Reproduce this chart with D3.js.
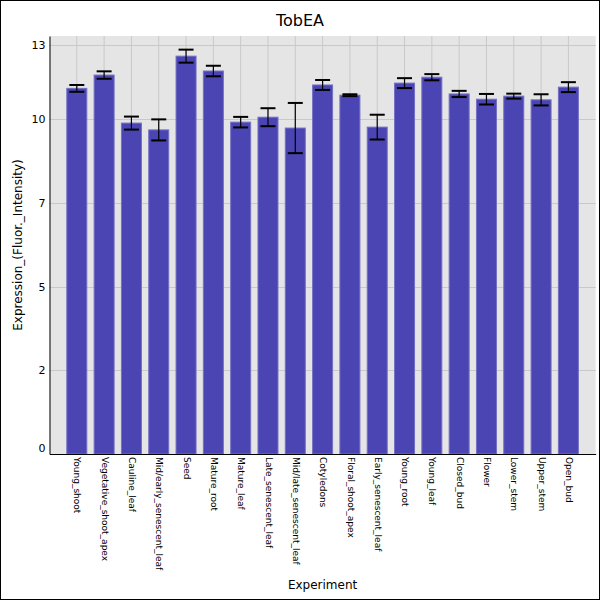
<!DOCTYPE html>
<html>
<head>
<meta charset="utf-8">
<script src="https://cdn.jsdelivr.net/npm/d3@7"></script>
<style>
  html, body { margin: 0; padding: 0; background: #fff; }
  svg { display: block; font-family: "DejaVu Sans", sans-serif; }
</style>
</head>
<body>
<svg id="chart" width="600" height="600"></svg>
<script>
const categories = ["Young_shoot", "Vegetative_shoot_apex", "Cauline_leaf", "Mid/early_senescent_leaf", "Seed", "Mature_root", "Mature_leaf", "Late_senescent_leaf", "Mid/late_senescent_leaf", "Cotyledons", "Floral_shoot_apex", "Early_senescent_leaf", "Young_root", "Young_leaf", "Closed_bud", "Flower", "Lower_stem", "Upper_stem", "Open_bud"];
const values = [11.60, 12.03, 10.48, 10.26, 12.64, 12.16, 10.51, 10.67, 10.32, 11.71, 11.38, 10.35, 11.77, 11.96, 11.42, 11.25, 11.35, 11.23, 11.64];
const errors = [0.11, 0.12, 0.21, 0.34, 0.21, 0.17, 0.17, 0.29, 0.81, 0.16, 0.03, 0.40, 0.16, 0.10, 0.10, 0.17, 0.08, 0.18, 0.16];
const yTicks = [0, 2.5, 5.2, 7.9, 10.6, 13.0];
const yTickLabels = ["0", "2", "5", "7", "10", "13"];
const yDomain = [-0.197, 13.29];

const svg = d3.select("#chart");
const W = 600, H = 600;
const m = { left: 49.5, right: 595.7, top: 36, bottom: 454 };

const x = d3.scalePoint().domain(categories).range([m.left, m.right]).padding(1);
const y = d3.scaleLinear().domain(yDomain).range([m.bottom, m.top]);

// outer border
svg.append("rect").attr("x", 0.5).attr("y", 0.5).attr("width", W - 1).attr("height", H - 1)
  .attr("fill", "#fff").attr("stroke", "#000");

// plot background
svg.append("rect").attr("x", m.left).attr("y", m.top)
  .attr("width", m.right - m.left).attr("height", m.bottom - m.top)
  .attr("fill", "#e5e5e5");

// grid
const grid = svg.append("g").attr("stroke", "#c9c9c9").attr("stroke-width", 1);
grid.selectAll("line.h").data(yTicks.filter(d => d > 0)).join("line")
  .attr("x1", m.left).attr("x2", m.right)
  .attr("y1", d => Math.round(y(d)) + 0.5).attr("y2", d => Math.round(y(d)) + 0.5);
grid.selectAll("line.v").data(categories).join("line")
  .attr("x1", d => x(d)).attr("x2", d => x(d))
  .attr("y1", m.top).attr("y2", m.bottom);

// bars
const barW = 20;
svg.append("g").selectAll("rect").data(categories).join("rect")
  .attr("x", d => x(d) - barW / 2)
  .attr("width", barW)
  .attr("y", (d, i) => y(values[i]))
  .attr("height", (d, i) => y(yDomain[0]) - y(values[i]))
  .attr("fill", "#4a45b2")
  .attr("stroke", "#7470c4")
  .attr("stroke-width", 1);

// error bars
const eb = svg.append("g").attr("stroke", "#000");
const capW = 15;
categories.forEach((c, i) => {
  const cx = x(c);
  const yHi = y(values[i] + errors[i]);
  const yLo = y(values[i] - errors[i]);
  eb.append("line").attr("x1", cx).attr("x2", cx).attr("y1", yHi).attr("y2", yLo).attr("stroke-width", 1.2);
  eb.append("line").attr("x1", cx - capW / 2).attr("x2", cx + capW / 2).attr("y1", yHi).attr("y2", yHi).attr("stroke-width", 2);
  eb.append("line").attr("x1", cx - capW / 2).attr("x2", cx + capW / 2).attr("y1", yLo).attr("y2", yLo).attr("stroke-width", 2);
});

// axes
const yAxis = d3.axisLeft(y).tickValues(yTicks).tickSize(0).tickPadding(4)
  .tickFormat((d, i) => yTickLabels[i]);
const gy = svg.append("g").attr("transform", `translate(${m.left},0)`).call(yAxis);
gy.select(".domain").attr("stroke", "#000");
gy.selectAll("text").attr("font-size", 11).attr("fill", "#000").attr("font-family", "DejaVu Sans");

const xAxis = d3.axisBottom(x).tickSize(0).tickPadding(0);
const gx = svg.append("g").attr("transform", `translate(0,${m.bottom})`).call(xAxis);
gx.select(".domain").attr("stroke", "#000");
gx.selectAll("text")
  .attr("font-size", 9).attr("fill", "#000").attr("font-family", "DejaVu Sans")
  .attr("text-anchor", "start")
  .attr("dy", null)
  .attr("y", 0)
  .attr("transform", "rotate(90) translate(3,-3)")
  .attr("dominant-baseline", "middle")
  .attr("x", 0);

// fix rotated label positions: position each at its tick
gx.selectAll(".tick text").attr("transform", "translate(0,3) rotate(90)").attr("dy", "0.32em").attr("y", 0).attr("dominant-baseline", null);

// title & labels
svg.append("text").attr("x", 300).attr("y", 26).attr("text-anchor", "middle")
  .attr("font-size", 16).attr("fill", "#000").text("TobEA");
svg.append("text").attr("x", (m.left + m.right) / 2).attr("y", 589).attr("text-anchor", "middle")
  .attr("font-size", 12).attr("fill", "#000").text("Experiment");
svg.append("text").attr("transform", `translate(22,${(m.top + m.bottom) / 2}) rotate(-90)`)
  .attr("text-anchor", "middle").attr("font-size", 12).attr("fill", "#000")
  .text("Expression_(Fluor._Intensity)");
</script>
</body>
</html>
